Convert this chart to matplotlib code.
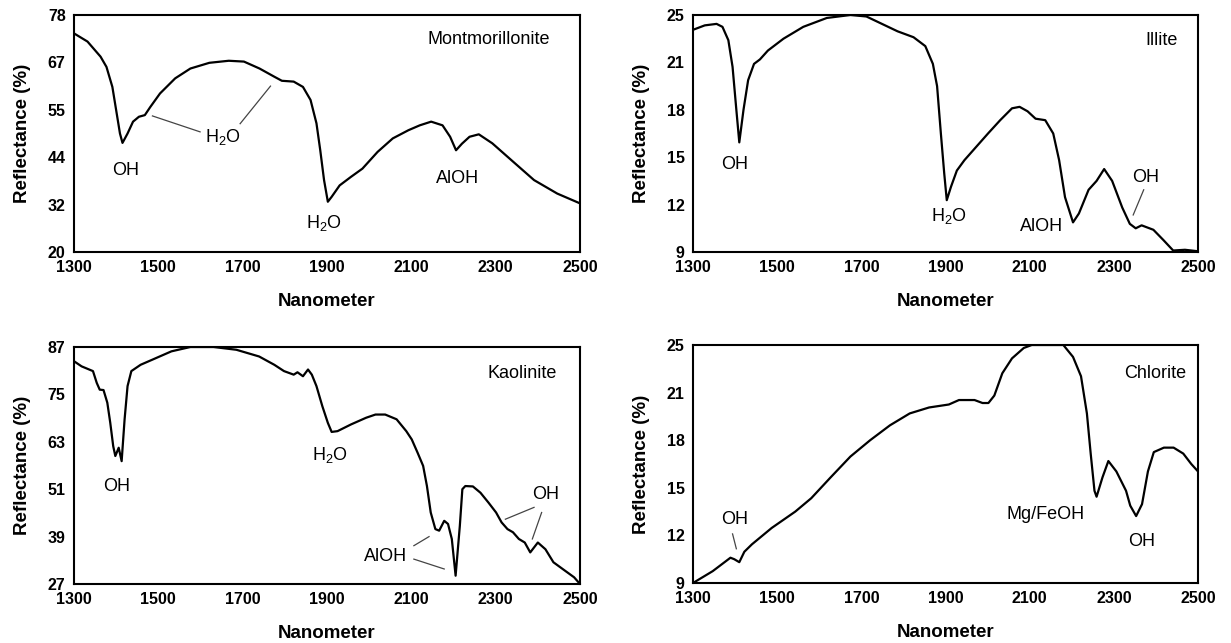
import numpy as np
import matplotlib
matplotlib.use("Agg")
import matplotlib.pyplot as plt

plt.rcParams['font.family'] = ['Liberation Sans', 'DejaVu Sans']
plt.rcParams['mathtext.fontset'] = 'custom'
plt.rcParams['mathtext.rm'] = 'Liberation Sans'
plt.rcParams['mathtext.it'] = 'Liberation Sans:italic'
plt.rcParams['mathtext.bf'] = 'Liberation Sans:bold'

# ---------------- data ----------------
x_ticks = [1300, 1500, 1700, 1900, 2100, 2300, 2500]

mont_x = [1300, 1332, 1363, 1377, 1391, 1400, 1409, 1415, 1427, 1440, 1454, 1468, 1481, 1504,
          1540, 1576, 1621, 1667, 1703, 1740, 1775, 1793, 1821, 1843, 1861, 1875, 1884, 1893,
          1902, 1911, 1930, 1957, 1984, 2020, 2056, 2093, 2120, 2147, 2174, 2192, 2206, 2220,
          2238, 2260, 2292, 2337, 2391, 2446, 2500]
mont_y = [73.5, 71.5, 67.8, 65.3, 60.4, 54.7, 49.0, 46.7, 49.0, 51.9, 53.1, 53.5, 55.5, 58.8,
          62.5, 64.9, 66.3, 66.8, 66.6, 64.9, 62.9, 61.9, 61.7, 60.4, 57.2, 51.5, 44.9, 37.6,
          32.3, 33.5, 36.3, 38.4, 40.4, 44.5, 47.8, 49.8, 51.0, 51.9, 51.0, 48.2, 44.9, 46.5,
          48.2, 48.8, 46.6, 42.5, 37.6, 34.3, 31.9]
mont_yticks = ["20", "32", "44", "55", "67", "78"]

illite_x = [1300, 1328, 1356, 1370, 1384, 1394, 1403, 1410, 1420, 1431, 1445, 1459, 1478, 1515,
            1562, 1618, 1674, 1712, 1749, 1786, 1824, 1852, 1870, 1880, 1889, 1897, 1903, 1913,
            1927, 1945, 1973, 2001, 2030, 2058, 2076, 2095, 2114, 2137, 2156, 2170, 2184, 2203,
            2217, 2240, 2259, 2277, 2296, 2320, 2338, 2352, 2366, 2394, 2418, 2441, 2469, 2500]
illite_y = [24.0, 24.3, 24.4, 24.2, 23.3, 21.5, 18.6, 16.4, 18.6, 20.6, 21.7, 22.0, 22.6, 23.4,
            24.2, 24.8, 25.0, 24.9, 24.4, 23.9, 23.5, 22.9, 21.7, 20.2, 17.0, 14.3, 12.5, 13.4,
            14.5, 15.2, 16.1, 17.0, 17.9, 18.7, 18.8, 18.5, 18.0, 17.9, 17.0, 15.2, 12.7, 11.0,
            11.6, 13.2, 13.8, 14.6, 13.8, 12.0, 10.9, 10.6, 10.8, 10.5, 9.8, 9.1, 9.15, 9.05]
illite_yticks = ["9", "12", "15", "18", "21", "25"]

kaol_x = [1300, 1318, 1345, 1354, 1361, 1370, 1379, 1386, 1393, 1398, 1406, 1413, 1420, 1427,
          1436, 1458, 1486, 1531, 1576, 1631, 1685, 1739, 1775, 1798, 1821, 1830, 1843, 1855,
          1864, 1875, 1889, 1902, 1911, 1925, 1957, 1993, 2015, 2038, 2065, 2088, 2101, 2115,
          2128, 2137, 2146, 2157, 2166, 2178, 2187, 2196, 2205, 2215, 2221, 2228, 2246, 2264,
          2283, 2301, 2314, 2328, 2341, 2355, 2369, 2382, 2400, 2418, 2437, 2464, 2486, 2500]
kaol_y = [83.4, 82.1, 80.9, 77.9, 76.2, 76.1, 72.9, 67.8, 61.9, 59.4, 61.5, 58.1, 68.7, 77.1,
          80.9, 82.5, 83.8, 85.9, 87.0, 87.0, 86.3, 84.6, 82.5, 80.9, 80.0, 80.6, 79.6, 81.3,
          80.0, 77.1, 72.0, 67.8, 65.5, 65.7, 67.4, 69.1, 69.9, 69.9, 68.7, 65.7, 63.6, 60.2,
          56.9, 51.8, 45.1, 40.9, 40.5, 43.0, 42.2, 38.4, 29.1, 41.7, 51.0, 51.8, 51.7, 50.1,
          47.6, 45.1, 42.6, 40.9, 40.1, 38.4, 37.5, 35.0, 37.5, 35.8, 32.5, 30.4, 28.7, 27.0]
kaol_yticks = ["27", "39", "51", "63", "75", "87"]

chl_x = [1300, 1347, 1389, 1398, 1410, 1422, 1440, 1487, 1543, 1581, 1627, 1674, 1721, 1768,
         1815, 1861, 1908, 1932, 1951, 1969, 1988, 2002, 2016, 2035, 2058, 2086, 2105, 2142,
         2180, 2203, 2222, 2236, 2245, 2254, 2259, 2273, 2287, 2306, 2329, 2339, 2353, 2367,
         2381, 2395, 2419, 2442, 2465, 2484, 2500]
chl_y = [9.0, 9.8, 10.7, 10.6, 10.4, 11.1, 11.6, 12.7, 13.8, 14.7, 16.1, 17.5, 18.6, 19.6,
         20.4, 20.8, 21.0, 21.3, 21.3, 21.3, 21.1, 21.1, 21.6, 23.1, 24.1, 24.8, 25.0, 25.0,
         25.0, 24.2, 22.9, 20.4, 17.7, 15.2, 14.8, 16.1, 17.2, 16.5, 15.2, 14.2, 13.5, 14.3,
         16.5, 17.8, 18.1, 18.1, 17.7, 17.0, 16.5]
chl_yticks = ["9", "12", "15", "18", "21", "25"]

H2O = r"H$_\mathregular{2}$O"

# ---------------- figure ----------------
fig = plt.figure(figsize=(12.31, 6.43), dpi=100)
W, H = 1231, 643

def make_ax(left, top, right, bottom):
    return fig.add_axes([left / W, 1 - bottom / H, (right - left) / W, (bottom - top) / H])

ax_tl = make_ax(74, 15, 580, 252)
ax_tr = make_ax(693, 15, 1198, 252)
ax_bl = make_ax(74, 347, 580, 584)
ax_br = make_ax(693, 345, 1198, 583)

tick_font = dict(fontsize=11.5, fontweight='bold')
lab_font = dict(fontsize=13.5, fontweight='bold')
ann_fs = 13

def style(ax, x, y, ylabels):
    ax.plot(x, y, color='black', lw=1.6, solid_joinstyle='round')
    lo, hi = float(ylabels[0]), float(ylabels[-1])
    ax.set_xlim(1300, 2500)
    ax.set_ylim(lo, hi)
    ax.set_xticks(x_ticks)
    ax.set_xticklabels([str(t) for t in x_ticks], **tick_font)
    ax.set_yticks(np.linspace(lo, hi, len(ylabels)))
    ax.set_yticklabels(ylabels, **tick_font)
    ax.tick_params(length=0, pad=6)
    for s in ax.spines.values():
        s.set_linewidth(1.5)
        s.set_color('black')
    ax.set_xlabel("Nanometer", labelpad=13, **lab_font)
    ax.set_ylabel("Reflectance (%)", labelpad=12, **lab_font)

style(ax_tl, mont_x, mont_y, mont_yticks)
style(ax_tr, illite_x, illite_y, illite_yticks)
style(ax_bl, kaol_x, kaol_y, kaol_yticks)
style(ax_br, chl_x, chl_y, chl_yticks)

def txt(ax, x, y, s):
    ax.text(x, y, s, fontsize=ann_fs, ha='center', va='center')

def seg(ax, x0, y0, x1, y1):
    ax.plot([x0, x1], [y0, y1], color='#444444', lw=0.9)

# Montmorillonite
txt(ax_tl, 2283, 72, "Montmorillonite")
txt(ax_tl, 1422, 40, "OH")
txt(ax_tl, 1653, 48.2, H2O)
seg(ax_tl, 1599, 49.4, 1486, 53.3)
seg(ax_tl, 1694, 51.4, 1766, 60.6)
txt(ax_tl, 1893, 27, H2O)
txt(ax_tl, 2210, 38, "AlOH")

# Illite
txt(ax_tr, 2413, 23.3, "Illite")
txt(ax_tr, 1398, 14.9, "OH")
txt(ax_tr, 1908, 11.4, H2O)
txt(ax_tr, 2128, 10.7, "AlOH")
txt(ax_tr, 2376, 14.0, "OH")
seg(ax_tr, 2371, 13.2, 2346, 11.5)

# Kaolinite
txt(ax_bl, 2364, 80.4, "Kaolinite")
txt(ax_bl, 1400, 51.8, "OH")
txt(ax_bl, 1907, 59.6, H2O)
txt(ax_bl, 2038, 34.0, "AlOH")
seg(ax_bl, 2106, 36.7, 2142, 39.0)
seg(ax_bl, 2106, 33.3, 2178, 30.8)
txt(ax_bl, 2418, 49.7, "OH")
seg(ax_bl, 2391, 46.4, 2323, 43.4)
seg(ax_bl, 2409, 45.1, 2387, 38.4)

# Chlorite
txt(ax_br, 2399, 23.1, "Chlorite")
txt(ax_br, 1398, 13.3, "OH")
seg(ax_br, 1394, 12.3, 1403, 11.3)
txt(ax_br, 2137, 13.6, "Mg/FeOH")
txt(ax_br, 2366, 11.8, "OH")

fig.savefig("out.png", dpi=100)
